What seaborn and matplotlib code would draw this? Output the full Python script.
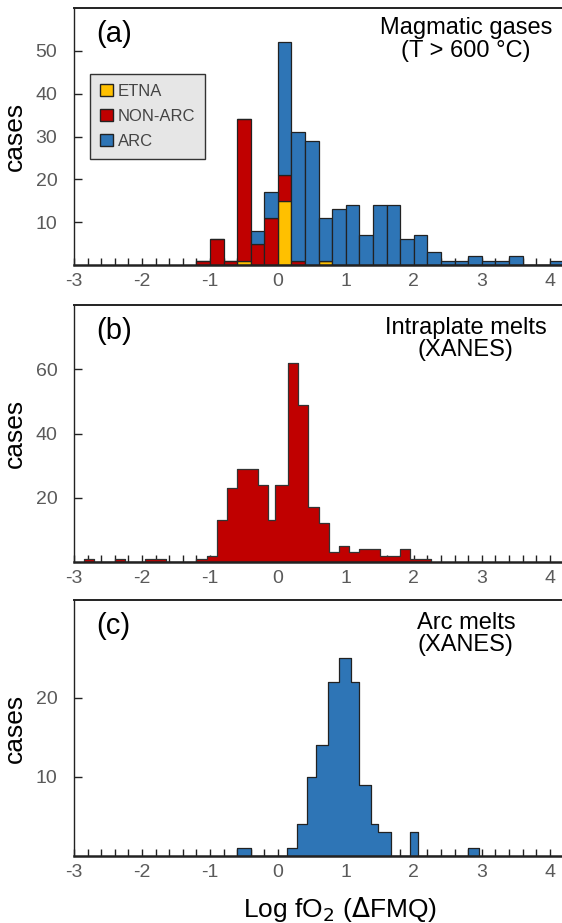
import numpy as np
import pandas as pd
import seaborn as sns
import matplotlib.pyplot as plt
from matplotlib.patches import Patch
from matplotlib.ticker import MultipleLocator

# (a) magmatic gases, bins of 0.2 from -1.2 to 4.2 (centres)
gas_centres = [-1.1, -0.9, -0.7, -0.5, -0.3, -0.1, 0.1, 0.3, 0.5, 0.7, 0.9, 1.1, 1.3, 1.5,
               1.7, 1.9, 2.1, 2.3, 2.5, 2.7, 2.9, 3.1, 3.3, 3.5, 3.7, 3.9, 4.1]
etna = [0, 0, 0, 1, 0, 0, 15, 0, 0, 1, 0, 0, 0, 0, 0, 0, 0, 0, 0, 0, 0, 0, 0, 0, 0, 0, 0]
non_arc = [1, 6, 1, 33, 5, 11, 6, 1, 0, 0, 0, 0, 0, 0, 0, 0, 0, 0, 0, 0, 0, 0, 0, 0, 0, 0, 0]
arc = [0, 0, 0, 0, 3, 6, 31, 30, 29, 10, 13, 14, 7, 14, 14, 6, 7, 3, 1, 1, 2, 1, 1, 2, 0, 0, 1]

# (b) intraplate melts (XANES), bin edges and counts
intra_edges = [-2.85, -2.7, -2.4, -2.25, -1.95, -1.65, -1.2, -1.05, -0.9, -0.75, -0.6, -0.3,
               -0.15, -0.05, 0.15, 0.3, 0.45, 0.6, 0.75, 0.9, 1.05, 1.2, 1.35, 1.5, 1.8, 1.95, 2.25]
intra_counts = [1, 0, 1, 0, 1, 0, 1, 2, 13, 23, 29, 24, 13, 24, 62, 49, 17, 12, 3, 5, 3, 4, 4, 2, 4, 1]

# (c) arc melts (XANES)
arcm_edges = [-0.6, -0.4, 0.14, 0.28, 0.43, 0.56, 0.74, 0.9, 1.07, 1.2, 1.37, 1.48, 1.66,
              1.94, 2.06, 2.8, 2.96]
arcm_counts = [1, 0, 1, 4, 10, 14, 22, 25, 22, 9, 4, 3, 0, 3, 0, 1]

colors = {"ETNA": "#FFC000", "NON-ARC": "#C00000", "ARC": "#2E75B6"}
edge = "#222222"

sns.set_style("ticks")
plt.rcParams['font.family'] = ['Liberation Sans', 'DejaVu Sans']
plt.rcParams['axes.edgecolor'] = edge
plt.rcParams['axes.unicode_minus'] = False
plt.rcParams['text.color'] = 'black'

fig = plt.figure(figsize=(5.62, 9.23), dpi=100)
L, W = 74 / 562, 488 / 562
ax_a = fig.add_axes([L, 1 - 265 / 923, W, 257 / 923])
ax_b = fig.add_axes([L, 1 - 562 / 923, W, 257 / 923])
ax_c = fig.add_axes([L, 1 - 856 / 923, W, 256 / 923])

# panel a: stacked bars
gas = pd.DataFrame({
    "fo2": gas_centres * 3,
    "n": etna + non_arc + arc,
    "group": ["ETNA"] * len(etna) + ["NON-ARC"] * len(non_arc) + ["ARC"] * len(arc),
})
sns.histplot(gas, x="fo2", weights="n", hue="group", hue_order=["ARC", "NON-ARC", "ETNA"],
             multiple="stack", binwidth=0.2, binrange=(-1.2, 4.2), palette=colors,
             alpha=1, edgecolor=edge, linewidth=0.9, legend=False, ax=ax_a)

# panel b, c: step histograms from edges
def centres(edges):
    return [(a + b) / 2 for a, b in zip(edges[:-1], edges[1:])]

sns.histplot(x=centres(intra_edges), weights=intra_counts, bins=intra_edges, element="step",
             color=colors["NON-ARC"], alpha=1, edgecolor="#333333", linewidth=0.9, ax=ax_b)
sns.histplot(x=centres(arcm_edges), weights=arcm_counts, bins=arcm_edges, element="step",
             color=colors["ARC"], alpha=1, edgecolor=edge, linewidth=0.9, ax=ax_c)

panels = [
    (ax_a, "(a)", "Magmatic gases\n(T > 600 °C)", 0.965, (0, 60), [10, 20, 30, 40, 50]),
    (ax_b, "(b)", "Intraplate melts\n(XANES)", 0.955, (0, 80), [20, 40, 60]),
    (ax_c, "(c)", "Arc melts\n(XANES)", 0.955, (0, 32.4), [10, 20]),
]
for ax, tag, note, ny, ylim, yt in panels:
    ax.set_xlim(-3, 4.18)
    ax.set_ylim(*ylim)
    ax.set_yticks(yt)
    ax.xaxis.set_major_locator(MultipleLocator(1))
    ax.xaxis.set_minor_locator(MultipleLocator(0.2))
    ax.tick_params(axis="both", which="both", direction="in", length=5, width=1,
                   colors=edge, labelcolor="#5a5a5a", labelsize=14)
    ax.tick_params(axis="y", length=6, pad=12)
    ax.tick_params(axis="x", pad=6)
    ax.set_ylabel("cases", fontsize=19, color="black", labelpad=6)
    ax.set_xlabel("")
    ax.spines["right"].set_visible(False)
    ax.spines["bottom"].set_linewidth(1.8)
    ax.spines["left"].set_linewidth(1.0)
    ax.spines["top"].set_linewidth(1.4)
    ax.text(0.045, 0.955, tag, transform=ax.transAxes, fontsize=21, va="top", ha="left",
            color="black")
    ax.text(0.803, ny, note, transform=ax.transAxes, fontsize=17, va="top", ha="center",
            linespacing=1.05, color="black")

handles = [Patch(facecolor=colors[k], edgecolor=edge, label=k) for k in ["ETNA", "NON-ARC", "ARC"]]
leg = ax_a.legend(handles=handles, loc="upper left", bbox_to_anchor=(0.033, 0.743),
                  borderaxespad=0, frameon=True, fancybox=False, facecolor="#e6e6e6",
                  edgecolor="#333333", framealpha=1, fontsize=12, handlelength=0.75,
                  handleheight=0.75, handletextpad=0.3, labelspacing=0.6, borderpad=0.6)
leg.get_frame().set_linewidth(1.0)
for t in leg.get_texts():
    t.set_color("#444444")

ax_c.set_xlabel("Log fO$_2$ ($\\Delta$FMQ)", fontsize=19, labelpad=10, color="black", x=0.545)

fig.savefig("out.png", dpi=100)
